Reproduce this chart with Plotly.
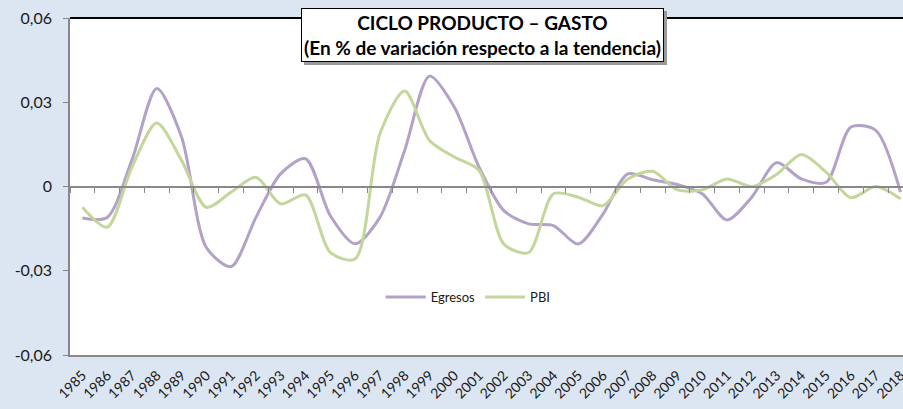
import plotly.graph_objects as go

years = [str(y) for y in range(1985, 2019)]
egresos = [-0.0112, -0.011, 0.0095, 0.0349, 0.0176, -0.0217, -0.0285, -0.011, 0.0046, 0.0099,
           -0.0104, -0.0204, -0.011, 0.0129, 0.0393, 0.0283, 0.0069, -0.0086, -0.0133, -0.0139,
           -0.0205, -0.0098, 0.0045, 0.0024, 0.0007, -0.0026, -0.0119, -0.0038, 0.0085, 0.0027,
           0.0015, 0.0212, 0.0200, -0.0020]
pbi = [-0.0074, -0.0145, 0.0069, 0.0226, 0.0093, -0.0074, -0.0020, 0.0033, -0.0062, -0.0030,
       -0.0235, -0.0258, 0.0188, 0.0340, 0.0164, 0.0105, 0.0057, -0.0205, -0.0235, -0.0026,
       -0.0038, -0.0068, 0.0027, 0.0054, -0.0012, -0.0012, 0.0027, 0.0000, 0.0043, 0.0114,
       0.0051, -0.0040, 0.0000, -0.0044]
y_ticks = [-0.06, -0.03, 0, 0.03, 0.06]
y_tick_text = ["-0,06", "-0,03", "0", "0,03", "0,06"]
title_lines = ["CICLO PRODUCTO – GASTO", "(En % de variación respecto a la tendencia)"]

FONT = "Lato"
fig = go.Figure()
fig.add_trace(go.Scatter(x=years, y=egresos, name="Egresos", mode="lines",
                         line=dict(color="#B3A2C7", width=3, shape="spline", smoothing=0.8)))
fig.add_trace(go.Scatter(x=years, y=pbi, name="PBI", mode="lines",
                         line=dict(color="#C3D69B", width=3, shape="spline", smoothing=0.8)))
# invisible trace to host the tick axis at y=0
fig.add_trace(go.Scatter(x=years, y=[0] * len(years), xaxis="x2", mode="lines",
                         line=dict(width=0), showlegend=False, hoverinfo="skip"))

xrange = [-0.5, 33.1]
fig.update_layout(
    width=903, height=409, autosize=False,
    margin=dict(l=70, r=0, t=18, b=54, autoexpand=False),
    paper_bgcolor="#DCE6F2", plot_bgcolor="white",
    font=dict(family=FONT, color="#1a1a1a"),
    showlegend=True,
    legend=dict(orientation="h", x=0.478, y=0.172, xanchor="center", yanchor="middle",
                bgcolor="rgba(0,0,0,0)", font=dict(size=13, family=FONT), itemwidth=40,
                tracegroupgap=0),
    xaxis=dict(type="category", categoryorder="array", categoryarray=years, range=xrange,
               tickangle=-45, tickfont=dict(size=14, family=FONT), showgrid=False,
               showline=True, linecolor="#888888", linewidth=1.5, ticks="", zeroline=False,
               automargin=False, ticklabelstandoff=5),
    xaxis2=dict(type="category", categoryorder="array", categoryarray=years, range=xrange,
                overlaying="x", anchor="free", position=0.5, side="bottom",
                showticklabels=False, ticks="outside", ticklen=6, tickcolor="#888888",
                tickson="boundaries", showline=True, linecolor="#888888", linewidth=1.5,
                showgrid=False, zeroline=False, automargin=False),
    yaxis=dict(range=[-0.06, 0.06], tickvals=y_ticks, ticktext=y_tick_text,
               tickfont=dict(size=16, family=FONT), showgrid=False, zeroline=False,
               showline=True, linecolor="#888888", linewidth=1.5, ticks="outside",
               ticklen=5, tickcolor="#888888", automargin=False, ticklabelstandoff=8),
)
fig.add_shape(type="line", xref="paper", yref="paper", x0=0, x1=1, y0=1, y1=1,
              line=dict(color="black", width=2))

title_text = "<b>" + title_lines[0] + "</b><br><b>" + title_lines[1] + "</b>"
common = dict(xref="paper", yref="paper", x=0.4946, y=1.0297, xanchor="center", yanchor="top",
              showarrow=False, align="center", borderpad=2)
fig.add_annotation(text=title_text, bgcolor="#9a9a9a", bordercolor="#9a9a9a", borderwidth=1,
                   xshift=3, yshift=-3, font=dict(size=19, family=FONT, color="#9a9a9a"), **common)
fig.add_annotation(text=title_text, bgcolor="white", bordercolor="black", borderwidth=1,
                   font=dict(size=19, family=FONT, color="black"), **common)

fig.write_html("out.html", config={"displayModeBar": False},
               post_script="document.body.style.margin='0';document.body.style.overflow='hidden';")
